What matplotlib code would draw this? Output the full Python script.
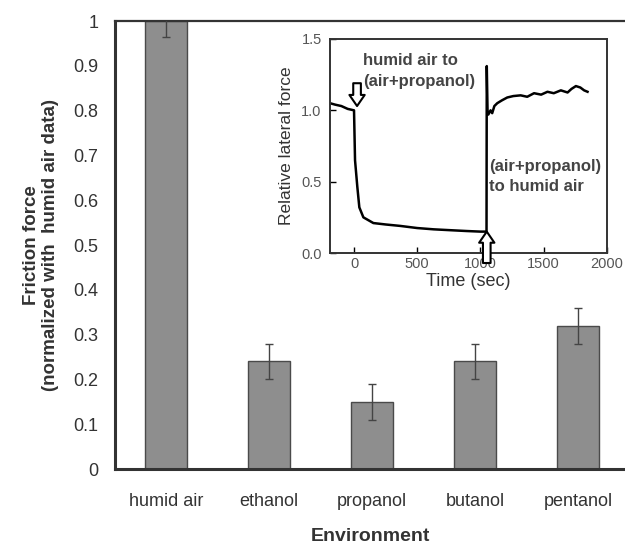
import matplotlib.pyplot as plt

plt.rcParams['font.family'] = ['Liberation Sans', 'DejaVu Sans']

# main bar chart data
environments = ['humid air', 'ethanol', 'propanol', 'butanol', 'pentanol']
friction = [1.0, 0.24, 0.15, 0.24, 0.32]
friction_err = [0.035, 0.04, 0.04, 0.04, 0.04]
yticks = [0, 0.1, 0.2, 0.3, 0.4, 0.5, 0.6, 0.7, 0.8, 0.9, 1]
ytick_labels = ['0', '0.1', '0.2', '0.3', '0.4', '0.5', '0.6', '0.7', '0.8', '0.9', '1']

# inset trace (time in sec, relative lateral force)
time_s = [-190, -150, -100, -50, 0, 8, 26, 42, 74, 153, 250, 365, 500, 630, 760, 894, 1000, 1048,
          1050, 1056, 1062, 1080, 1093, 1110, 1133, 1170, 1212, 1260, 1318, 1370, 1424, 1480,
          1530, 1580, 1636, 1689, 1720, 1755, 1790, 1820, 1847]
force = [1.05, 1.04, 1.03, 1.01, 1.0, 0.65, 0.465, 0.32, 0.25, 0.21, 0.2, 0.19, 0.175, 0.166, 0.16, 0.154, 0.15, 0.15,
         1.31, 1.0, 0.97, 1.0, 0.98, 1.03, 1.05, 1.07, 1.09, 1.1, 1.105, 1.095, 1.12, 1.11,
         1.13, 1.12, 1.14, 1.125, 1.15, 1.17, 1.16, 1.14, 1.13]
inset_xticks = [0, 500, 1000, 1500, 2000]
inset_yticks = [0.0, 0.5, 1.0, 1.5]

text_col = '#333333'

fig = plt.figure(figsize=(6.25, 5.46), dpi=100)
ax = fig.add_axes([0.184, 0.141, 0.816, 0.8205])

x = list(range(len(environments)))
ax.bar(x, friction, width=0.41, color='#8e8e8e', edgecolor='#4a4a4a', linewidth=1.0, zorder=2)
ax.errorbar(x, friction, yerr=friction_err, fmt='none', ecolor='#444444', elinewidth=1.0,
            capsize=3, capthick=1.0, zorder=3)

ax.set_xlim(-0.495, 4.456)
ax.set_ylim(0, 1)
ax.set_yticks(yticks)
ax.set_yticklabels(ytick_labels)
ax.set_xticks(x)
ax.set_xticklabels(environments)
ax.tick_params(axis='y', length=0, pad=12, labelsize=13, labelcolor=text_col)
ax.tick_params(axis='x', length=0, pad=17, labelsize=13, labelcolor=text_col)
for s in ['left', 'bottom']:
    ax.spines[s].set_linewidth(2.2)
    ax.spines[s].set_color('#333333')
ax.spines['top'].set_linewidth(1.6)
ax.spines['top'].set_color('#333333')
ax.spines['right'].set_visible(False)

ax.set_xlabel('Environment', fontsize=14, fontweight='bold', color=text_col, labelpad=13)
ax.set_ylabel('Friction force\n(normalized with  humid air data)', fontsize=13.5,
              fontweight='bold', color=text_col, labelpad=10, linespacing=1.15)

# inset
ins = fig.add_axes([0.528, 0.5366, 0.443, 0.392])
ins.plot(time_s, force, color='black', linewidth=1.8)
ins.set_xlim(-190, 2000)
ins.set_ylim(0, 1.5)
ins.set_xticks(inset_xticks)
ins.set_yticks(inset_yticks)
ins.set_yticklabels(['0.0', '0.5', '1.0', '1.5'])
ins.tick_params(direction='in', length=4, width=1, labelsize=10.5, labelcolor='#555555')
ins.tick_params(axis='y', pad=6)
ins.tick_params(axis='x', pad=3)
for s in ins.spines.values():
    s.set_linewidth(1.4)
    s.set_color('#333333')
ins.set_xlabel('Time (sec)', fontsize=13, color=text_col, labelpad=1)
ins.set_ylabel('Relative lateral force', fontsize=12.5, color=text_col, labelpad=5)

arrow_style = 'simple,head_width=1.1,head_length=0.8,tail_width=0.55'
ins.annotate('', xy=(24, 1.03), xytext=(24, 1.19),
             arrowprops=dict(arrowstyle=arrow_style, mutation_scale=10,
                             facecolor='white', edgecolor='black', linewidth=1.5,
                             shrinkA=0, shrinkB=0))
ins.annotate('', xy=(1050, 0.15), xytext=(1050, -0.07),
             arrowprops=dict(arrowstyle=arrow_style, mutation_scale=10,
                             facecolor='white', edgecolor='black', linewidth=1.5,
                             shrinkA=0, shrinkB=0),
             annotation_clip=False)

ins.text(70, 1.4, 'humid air to\n(air+propanol)', fontsize=12, fontweight='bold',
         color='#444444', va='top', ha='left', linespacing=1.5)
ins.text(1070, 0.66, '(air+propanol)\nto humid air', fontsize=12, fontweight='bold',
         color='#444444', va='top', ha='left', linespacing=1.4)

fig.savefig('out.png', dpi=100)
